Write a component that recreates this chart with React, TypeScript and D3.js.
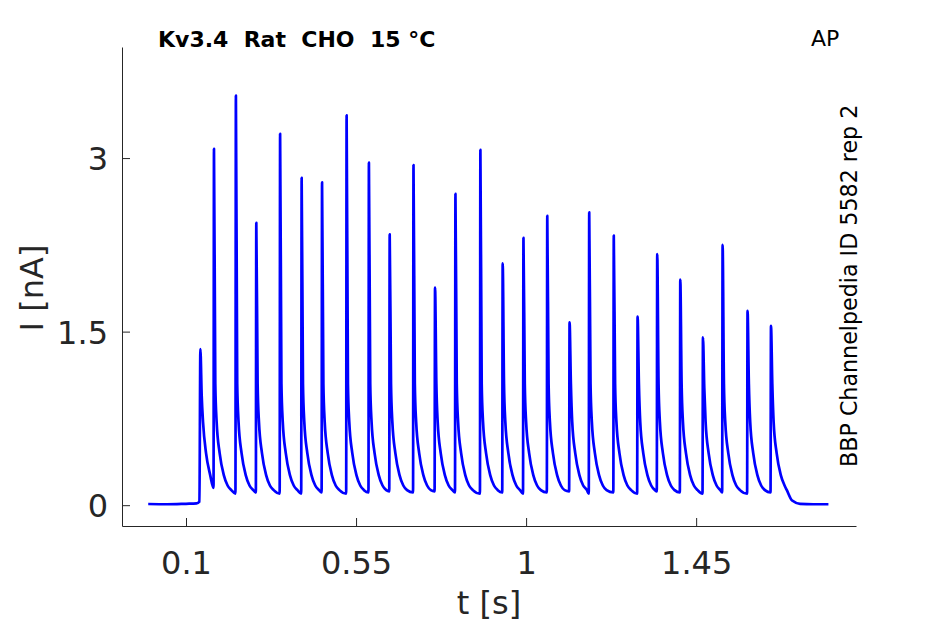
import React, { useEffect, useRef } from "react";
import * as d3 from "d3";

// axis ticks
const xTicks = [0.1, 0.55, 1, 1.45];
const yTicks = [0, 1.5, 3];

// spike times [s], peak currents [nA], level just before each spike [nA]
const spikeTimes = [
  0.138, 0.174, 0.232, 0.286, 0.349, 0.406, 0.46, 0.525, 0.584, 0.639,
  0.702, 0.759, 0.813, 0.879, 0.938, 0.993, 1.056, 1.115, 1.167, 1.232,
  1.295, 1.347, 1.408, 1.468, 1.52, 1.586, 1.648,
];
const spikePeaks = [
  1.35, 3.08, 3.54, 2.44, 3.21, 2.83, 2.79, 3.37, 2.96, 2.34,
  2.94, 1.88, 2.69, 3.07, 2.09, 2.31, 2.5, 1.58, 2.53, 2.33,
  1.63, 2.17, 1.95, 1.45, 2.25, 1.68, 1.55,
];
const spikeTroughs = [
  0.03, 0.15, 0.1, 0.11, 0.1, 0.1, 0.11, 0.1, 0.11, 0.12,
  0.11, 0.12, 0.11, 0.1, 0.11, 0.1, 0.11, 0.12, 0.1, 0.11,
  0.1, 0.12, 0.11, 0.1, 0.11, 0.1, 0.11,
];

// decay after a spike tip
const tailOffsets = [0.0035, 0.007, 0.015, 0.026, 0.036, 0.046];
const tailValues = [1.05, 0.72, 0.45, 0.26, 0.17, 0.13];

// holding level before the train and recovery after it
const leadTimes = [0.0, 0.05, 0.1, 0.128, 0.1355];
const leadValues = [0.01, 0.008, 0.012, 0.015, 0.03];
const endTimes = [1.69, 1.704, 1.725, 1.76, 1.8];
const endValues = [0.13, 0.04, 0.012, 0.008, 0.008];

export default function App() {
  const ref = useRef<SVGSVGElement | null>(null);

  useEffect(() => {
    const width = 945;
    const height = 624;
    const svg = d3.select(ref.current as any);
    svg.selectAll("*").remove();

    const x = d3.scaleLinear().domain([-0.0694, 1.873]).range([122, 856]);
    const y = d3.scaleLinear().domain([-0.18, 3.96]).range([526, 47]);
    const font = "DejaVu Sans";
    const ink = "#262626";

    // trace
    const pts: [number, number][] = leadTimes.map((t, i) => [t, leadValues[i]]);
    spikeTimes.forEach((t, i) => {
      if (i > 0) pts.push([t - 0.0012, spikeTroughs[i]]);
      pts.push([t, spikePeaks[i]]);
      const next = i < spikeTimes.length - 1 ? spikeTimes[i + 1] : endTimes[0];
      tailOffsets.forEach((o, k) => {
        if (t + o < next - 0.004) pts.push([t + o, Math.min(tailValues[k], spikePeaks[i] * 0.7)]);
      });
    });
    endTimes.forEach((t, i) => pts.push([t, endValues[i]]));

    const line = d3.line<[number, number]>()
      .x(d => x(d[0]))
      .y(d => y(d[1]))
      .curve(d3.curveMonotoneX);

    svg.append("path")
      .datum(pts)
      .attr("d", line)
      .attr("fill", "none")
      .attr("stroke", "#0000ff")
      .attr("stroke-width", 2.7)
      .attr("stroke-linejoin", "round");

    // x axis
    const gx = svg.append("g").attr("transform", `translate(0,526)`)
      .call(d3.axisBottom(x).tickValues(xTicks).tickSizeInner(-8).tickSizeOuter(0).tickFormat(d => String(d)));
    gx.select(".domain").attr("stroke", ink);
    gx.selectAll(".tick line").attr("stroke", ink);
    gx.selectAll(".tick text")
      .attr("y", 48).attr("dy", 0)
      .attr("fill", ink)
      .style("font-family", font).style("font-size", "32px");

    // y axis
    const gy = svg.append("g").attr("transform", `translate(122,0)`)
      .call(d3.axisLeft(y).tickValues(yTicks).tickSizeInner(-8).tickSizeOuter(0).tickFormat(d => String(d)));
    gy.select(".domain").attr("stroke", ink);
    gy.selectAll(".tick line").attr("stroke", ink);
    gy.selectAll(".tick text")
      .attr("x", -14).attr("dy", "0.36em")
      .attr("fill", ink)
      .style("font-family", font).style("font-size", "32px");

    // labels
    svg.append("text")
      .attr("x", 489).attr("y", 614)
      .attr("text-anchor", "middle")
      .attr("fill", ink)
      .style("font-family", font).style("font-size", "32px")
      .text("t [s]");

    svg.append("text")
      .attr("transform", `translate(43,288) rotate(-90)`)
      .attr("text-anchor", "middle")
      .attr("fill", ink)
      .style("font-family", font).style("font-size", "32px")
      .text("I [nA]");

    svg.append("text")
      .attr("x", 158).attr("y", 47)
      .attr("fill", "#000")
      .style("font-family", font).style("font-size", "22px").style("font-weight", "bold")
      .style("white-space", "pre")
      .text("Kv3.4  Rat  CHO  15 °C");

    svg.append("text")
      .attr("x", 811).attr("y", 46)
      .attr("fill", "#000")
      .style("font-family", font).style("font-size", "22px")
      .text("AP");

    svg.append("text")
      .attr("transform", `translate(857,467) rotate(-90)`)
      .attr("fill", "#000")
      .style("font-family", font).style("font-size", "22.2px")
      .text("BBP Channelpedia ID 5582 rep 2");

    svg.attr("viewBox", `0 0 ${width} ${height}`);
  }, []);

  return (
    <svg
      ref={ref}
      width={945}
      height={624}
      style={{ position: "absolute", left: 0, top: 0, background: "#fff" }}
    />
  );
}
